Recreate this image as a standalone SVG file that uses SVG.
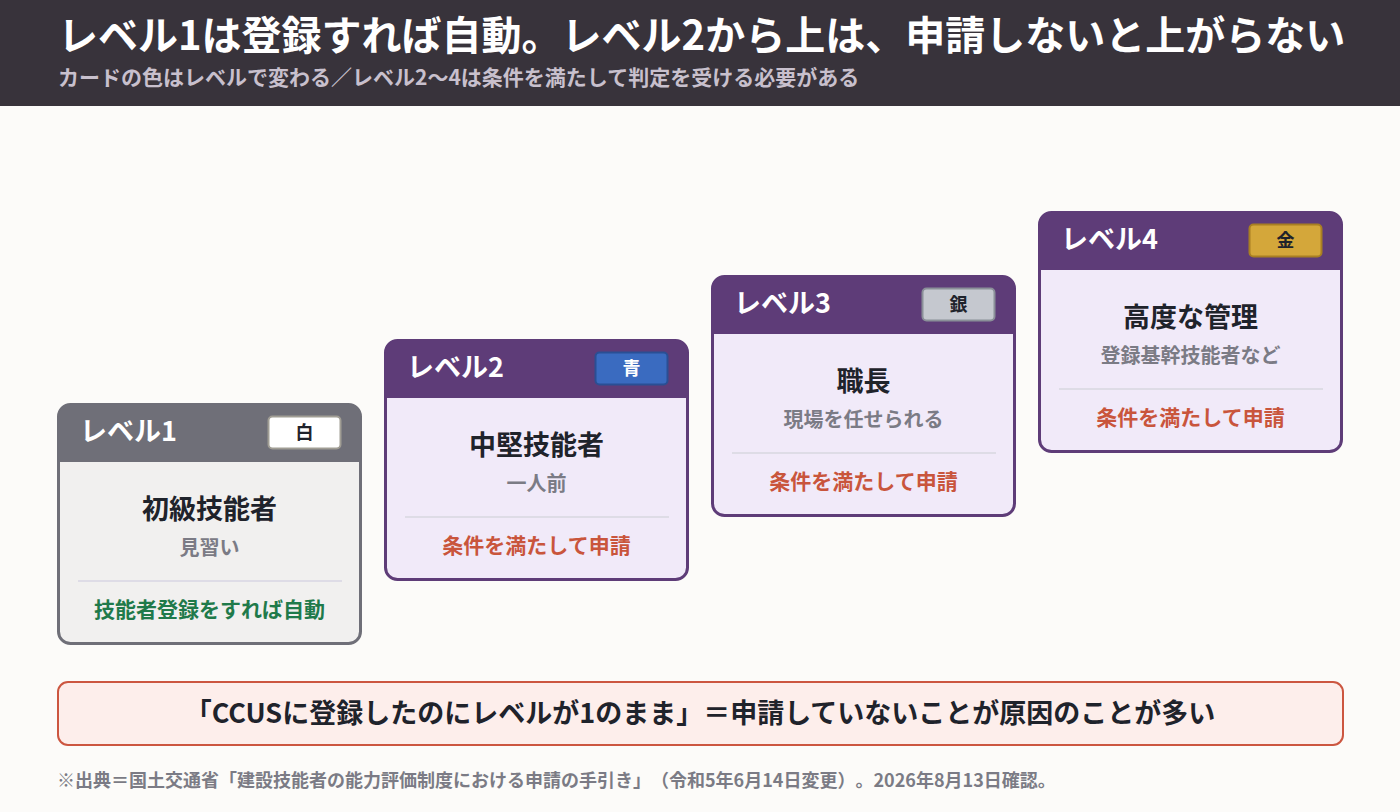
<svg xmlns="http://www.w3.org/2000/svg" width="1400" height="812" viewBox="0 0 1400 812">
<style>
text{font-family:"Noto Sans CJK JP","Noto Sans",sans-serif;font-weight:700;text-spacing-trim:space-all}
.ttl{font-size:40px;fill:#ffffff}
.sub{font-size:21px;fill:#c8c0cd}
.lv{font-size:27px;fill:#ffffff}
.bdg{font-size:18px;text-anchor:middle}
.nm{font-size:27px;fill:#1f232b;text-anchor:middle}
.ds{font-size:20px;fill:#7b7b85;text-anchor:middle}
.act{font-size:21px;text-anchor:middle}
.red{fill:#c9553c}
.grn{fill:#1f7a4a}
.div{stroke:#dedce6;stroke-width:2}
.body1{fill:#f1f0ef;stroke:#6f6f78;stroke-width:3}
.head1{fill:#6f6f78}
.bodyP{fill:#f1eaf9;stroke:#5e3c78;stroke-width:3}
.headP{fill:#5e3c78}
</style>
<defs>
<path id="hdr" d="M1.5,59 V13.5 A12,12 0 0 1 13.5,1.5 H291.5 A12,12 0 0 1 303.5,13.5 V59 Z"/>
</defs>
<rect width="1400" height="812" fill="#fcfbf9"/>
<g id="header">
<rect x="0" y="0" width="1400" height="106" fill="#38333b"/>
<text class="ttl" x="58" y="50">レベル1は登録すれば自動。レベル2から上は、申請しないと上がらない</text>
<text class="sub" x="58" y="85">カードの色はレベルで変わる／レベル2〜4は条件を満たして判定を受ける必要がある</text>
</g>
<g id="connectors"></g>
<g id="card1" transform="translate(57,403)">
<rect class="body1" x="1.5" y="1.5" width="302" height="239" rx="12"/>
<use href="#hdr" class="head1"/>
<rect x="211.5" y="13.5" width="72" height="32" rx="4" fill="#ffffff" stroke="#a09d94" stroke-width="2"/>
<text class="lv" x="23" y="38">レベル1</text>
<text class="bdg" x="247.5" y="36" fill="#1f232b">白</text>
<text class="nm" x="152.5" y="116">初級技能者</text>
<text class="ds" x="152.5" y="152">見習い</text>
<line class="div" x1="21" y1="178" x2="285" y2="178"/>
<text class="act grn" x="152.5" y="214">技能者登録をすれば自動</text>
</g>
<g id="card2" transform="translate(384,339)">
<rect class="bodyP" x="1.5" y="1.5" width="302" height="239" rx="12"/>
<use href="#hdr" class="headP"/>
<rect x="211.5" y="13.5" width="72" height="32" rx="4" fill="#3a6bc0" stroke="#2a4f94" stroke-width="2"/>
<text class="lv" x="23" y="38">レベル2</text>
<text class="bdg" x="247.5" y="36" fill="#ffffff">青</text>
<text class="nm" x="152.5" y="116">中堅技能者</text>
<text class="ds" x="152.5" y="152">一人前</text>
<line class="div" x1="21" y1="178" x2="285" y2="178"/>
<text class="act red" x="152.5" y="214">条件を満たして申請</text>
</g>
<g id="card3" transform="translate(711,275)">
<rect class="bodyP" x="1.5" y="1.5" width="302" height="239" rx="12"/>
<use href="#hdr" class="headP"/>
<rect x="211.5" y="13.5" width="72" height="32" rx="4" fill="#c5c8cf" stroke="#8a8f98" stroke-width="2"/>
<text class="lv" x="23" y="38">レベル3</text>
<text class="bdg" x="247.5" y="36" fill="#1f232b">銀</text>
<text class="nm" x="152.5" y="116">職長</text>
<text class="ds" x="152.5" y="152">現場を任せられる</text>
<line class="div" x1="21" y1="178" x2="285" y2="178"/>
<text class="act red" x="152.5" y="214">条件を満たして申請</text>
</g>
<g id="card4" transform="translate(1038,211)">
<rect class="bodyP" x="1.5" y="1.5" width="302" height="239" rx="12"/>
<use href="#hdr" class="headP"/>
<rect x="211.5" y="13.5" width="72" height="32" rx="4" fill="#d4a73a" stroke="#a87f22" stroke-width="2"/>
<text class="lv" x="23" y="38">レベル4</text>
<text class="bdg" x="247.5" y="36" fill="#1f232b">金</text>
<text class="nm" x="152.5" y="116">高度な管理</text>
<text class="ds" x="152.5" y="152">登録基幹技能者など</text>
<line class="div" x1="21" y1="178" x2="285" y2="178"/>
<text class="act red" x="152.5" y="214">条件を満たして申請</text>
</g>
<g id="banner">
<rect x="58" y="682" width="1285" height="63" rx="10" fill="#fdeeeb" stroke="#cc5640" stroke-width="2"/>
<text x="700" y="723" font-size="27" fill="#1f232b" text-anchor="middle">「CCUSに登録したのにレベルが1のまま」＝申請していないことが原因のことが多い</text>
</g>
<g id="footer">
<text x="57" y="787" font-size="18" fill="#7b7b85">※出典＝国土交通省「建設技能者の能力評価制度における申請の手引き」（令和5年6月14日変更）。2026年8月13日確認。</text>
</g>
</svg>
